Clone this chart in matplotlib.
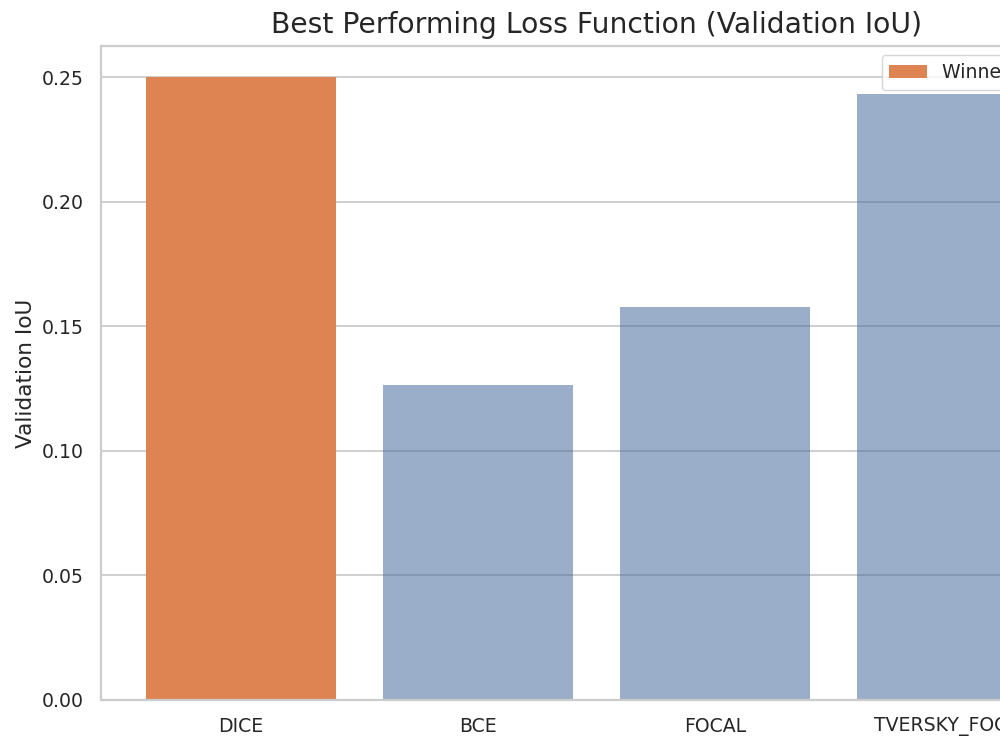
import matplotlib
matplotlib.use("Agg")
import matplotlib.pyplot as plt
import seaborn as sns

categories = ["DICE", "BCE", "FOCAL", "TVERSKY_FOCAL"]
values = [0.2500, 0.1264, 0.1577, 0.2432]
winner = "DICE"
winner_label = "Winner (DICE)"

sns.set_theme(style="whitegrid")
plt.rcParams['font.family'] = ['DejaVu Sans']

fig = plt.figure(figsize=(10, 7.5), dpi=100)
ax = fig.add_axes([0.101, 0.0667, 0.991, 0.872])

win_color = "#dd8452"
other_color = "#476a9d"
colors = [win_color if c == winner else other_color for c in categories]
alphas = [1.0 if c == winner else 0.55 for c in categories]
bars = ax.bar(categories, values, width=0.8, color=colors, linewidth=0)
for b, a, c in zip(bars, alphas, categories):
    b.set_alpha(a)
    if c == winner:
        b.set_label(winner_label)

ax.set_title("Best Performing Loss Function (Validation IoU)", fontsize=20.3,
             color="#262626", pad=9)
ax.set_ylabel("Validation IoU", fontsize=15.6, color="#262626")
ax.tick_params(axis="both", labelsize=13.6, colors="#262626", pad=6.5)
ax.grid(True, axis="y", linewidth=1.3, color="#cccccc")
ax.grid(False, axis="x")
for sp in ax.spines.values():
    sp.set_linewidth(1.6)
    sp.set_color("#cccccc")
ax.legend(loc="upper right", fontsize=13.6)

fig.savefig("out.png", dpi=100)
